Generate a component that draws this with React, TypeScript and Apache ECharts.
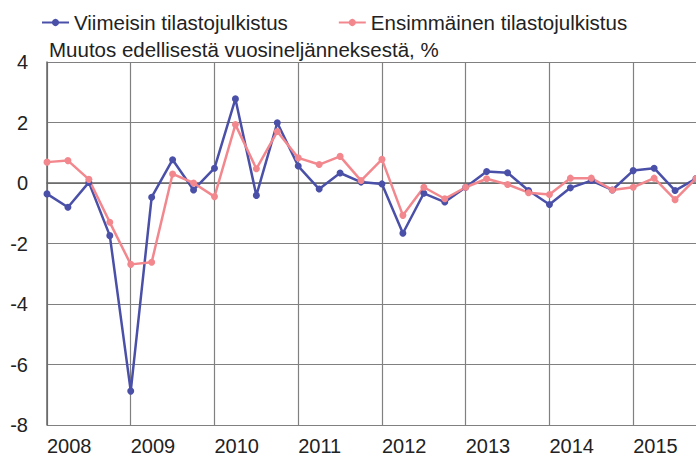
import React, { useEffect, useRef } from "react";
import * as echarts from "echarts";

const years = ["2008", "2009", "2010", "2011", "2012", "2013", "2014", "2015"];
const quarters = ["Q1", "Q2", "Q3", "Q4"];
const categories = years.flatMap((y) => quarters.map((q) => y + q));

const latest = [
  -0.36, -0.8, 0.02, -1.74,
  -6.88, -0.47, 0.77, -0.23,
  0.49, 2.78, -0.41, 1.99,
  0.56, -0.2, 0.33, 0.03,
  -0.03, -1.66, -0.34, -0.63,
  -0.14, 0.38, 0.34, -0.25,
  -0.71, -0.16, 0.08, -0.23,
  0.41, 0.49, -0.25, 0.15,
];

const first = [
  0.69, 0.74, 0.12, -1.3,
  -2.69, -2.62, 0.3, 0.0,
  -0.45, 1.93, 0.47, 1.7,
  0.83, 0.61, 0.88, 0.08,
  0.78, -1.07, -0.14, -0.52,
  -0.14, 0.14, -0.05, -0.32,
  -0.38, 0.16, 0.16, -0.23,
  -0.14, 0.16, -0.55, 0.15,
];

const seriesNames = ["Viimeisin tilastojulkistus", "Ensimmäinen tilastojulkistus"];
const yTitle = "Muutos edellisestä vuosineljänneksestä, %";

export default function App() {
  const ref = useRef<HTMLDivElement>(null);
  useEffect(() => {
    if (!ref.current) return;
    const chart = echarts.init(ref.current, undefined, { renderer: "svg" });
    const font = "'Liberation Sans', Arial, sans-serif";
    chart.setOption({
      animation: false,
      backgroundColor: "#ffffff",
      textStyle: { fontFamily: font },
      title: {
        text: yTitle,
        left: 44,
        top: 34,
        textStyle: { fontSize: 20.5, fontWeight: "normal", color: "#222", fontFamily: font },
      },
      legend: {
        left: 36,
        top: 7,
        itemWidth: 27,
        itemHeight: 9,
        itemGap: 50,
        textStyle: { fontSize: 20.5, color: "#222", fontFamily: font },
        data: seriesNames,
      },
      grid: { left: 47, right: -4, top: 62, bottom: 34, containLabel: false },
      xAxis: {
        type: "category",
        data: categories,
        boundaryGap: false,
        axisLine: { show: true, lineStyle: { color: "#666", width: 1.5 } },
        axisTick: { show: false },
        axisLabel: {
          interval: 3,
          align: "left",
          margin: 11,
          fontSize: 20,
          color: "#222",
          fontFamily: font,
          formatter: (v: string) => v.slice(0, 4),
        },
        splitLine: { show: true, interval: 3, lineStyle: { color: "#808080", width: 1.2 } },
      },
      yAxis: {
        type: "value",
        min: -8,
        max: 4,
        interval: 2,
        axisLine: { show: true, lineStyle: { color: "#666", width: 1.5 } },
        axisTick: { show: false },
        axisLabel: { margin: 19, fontSize: 20, color: "#222", fontFamily: font },
        splitLine: { show: true, lineStyle: { color: "#808080", width: 1.2 } },
      },
      series: [
        {
          name: seriesNames[0],
          type: "line",
          data: latest,
          symbol: "circle",
          symbolSize: 7,
          itemStyle: { color: "#4a50a8" },
          lineStyle: { color: "#4a50a8", width: 2.5 },
        },
        {
          name: seriesNames[1],
          type: "line",
          data: first,
          symbol: "circle",
          symbolSize: 7,
          itemStyle: { color: "#f2888e" },
          lineStyle: { color: "#f2888e", width: 2.5 },
        },
      ],
    });
    return () => chart.dispose();
  }, []);
  return <div ref={ref} style={{ width: 696, height: 459, position: "absolute", left: 0, top: 0 }} />;
}
